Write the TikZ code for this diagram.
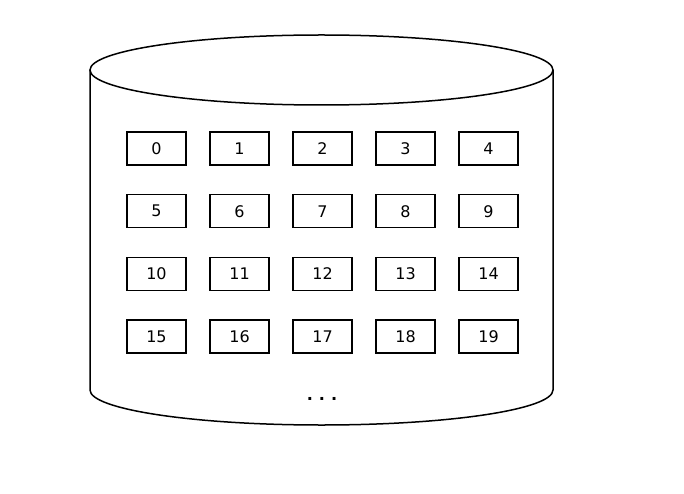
\documentclass[tikz,border=0pt]{standalone}
\usepackage{fontspec}
\setmainfont{DejaVu Sans}
\begin{document}
\begin{tikzpicture}[x=1pt,y=-1pt,
  cell/.style={draw, line width=1.4pt, minimum width=59pt, minimum height=33pt, inner sep=0pt, font=\fontsize{16}{16}\selectfont},
  cyl/.style={draw, line width=1.5pt}]
\useasboundingbox (0,0) rectangle (684,494);
% cylinder body
\draw[cyl] (90,70) -- (90,390) arc[start angle=180, end angle=0, x radius=231.5, y radius=35] -- (553,70);
\draw[cyl] (321.5,70) ellipse[x radius=231.5, y radius=35];
% cells
\foreach \r in {0,1,2,3}{
  \foreach \c in {0,1,2,3,4}{
    \pgfmathtruncatemacro{\n}{\r*5+\c}
    \node[cell] (c\n) at ({156.5+83*\c},{148.5+62.7*\r}) {\n};
  }
}
\node[font=\fontsize{16}{16}\selectfont\bfseries] (dots) at (322,399) {.\hspace{6pt}.\hspace{6pt}.};
\end{tikzpicture}
\end{document}
